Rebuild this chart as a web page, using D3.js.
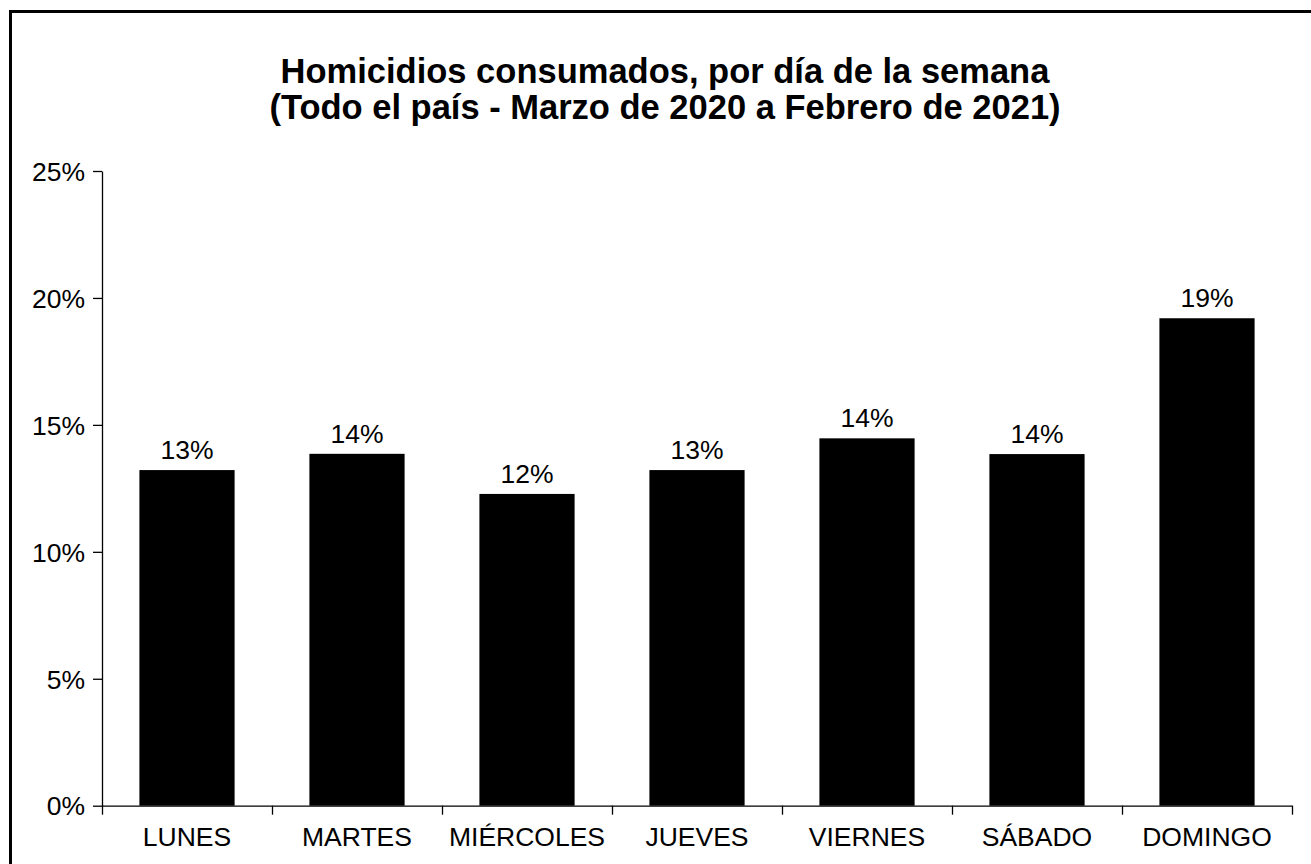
<!DOCTYPE html>
<html>
<head>
<meta charset="utf-8">
<script src="https://cdn.jsdelivr.net/npm/d3@7"></script>
<style>
  body { margin: 0; background: #fff; }
  svg { display: block; font-family: "Liberation Sans", Arial, sans-serif; }
</style>
</head>
<body>
<div class="chart"></div>
<script>
// days of the week and their share of homicides
var days = ["LUNES", "MARTES", "MIÉRCOLES", "JUEVES", "VIERNES", "SÁBADO", "DOMINGO"];
var shares = [0.1322, 0.1386, 0.1228, 0.1322, 0.1447, 0.1385, 0.1920];
var yTicks = [0, 0.05, 0.10, 0.15, 0.20, 0.25];
var titleLines = ["Homicidios consumados, por día de la semana",
                  "(Todo el país - Marzo de 2020 a Febrero de 2021)"];

var width = 1311, height = 864;
var plotLeft = 102, plotRight = 1292, plotTop = 171, plotBottom = 805.7;
var fontSize = 26.5;

var svg = d3.select(".chart").append("svg")
    .attr("width", width)
    .attr("height", height);

// frame (cut off on right / bottom like the original)
svg.append("rect")
    .attr("x", 10.5).attr("y", 11.5)
    .attr("width", 1320).attr("height", 880)
    .attr("fill", "none")
    .attr("stroke", "#000")
    .attr("stroke-width", 3);

svg.append("g")
    .attr("font-weight", "bold")
    .attr("font-size", 34.5)
    .attr("text-anchor", "middle")
    .selectAll("text")
    .data(titleLines).enter()
    .append("text")
    .attr("x", 665)
    .attr("y", (d, i) => 83 + i * 36)
    .text(d => d);

var x = d3.scaleBand()
    .domain(days)
    .range([plotLeft, plotRight])
    .paddingInner(0.44)
    .paddingOuter(0.22);

var y = d3.scaleLinear()
    .domain([0, 0.25])
    .range([plotBottom, plotTop]);

// y axis
var yAxis = svg.append("g")
    .attr("transform", `translate(${plotLeft},0)`)
    .call(d3.axisLeft(y).tickValues(yTicks).tickFormat(d3.format(".0%"))
        .tickSize(9).tickPadding(8).tickSizeOuter(0));
yAxis.selectAll("text").attr("font-size", fontSize).attr("fill", "#000").attr("dy", "0.35em");
yAxis.attr("font-family", null);
yAxis.selectAll("line,path").attr("stroke", "#000").attr("stroke-width", 1.3);

// bars
svg.append("g")
    .selectAll("rect")
    .data(shares).enter()
    .append("rect")
    .attr("x", (d, i) => x(days[i]))
    .attr("y", d => y(d))
    .attr("width", x.bandwidth())
    .attr("height", d => y(0) - y(d))
    .attr("fill", "#000");

// value labels
svg.append("g")
    .attr("font-size", fontSize)
    .attr("text-anchor", "middle")
    .selectAll("text")
    .data(shares).enter()
    .append("text")
    .attr("x", (d, i) => x(days[i]) + x.bandwidth() / 2)
    .attr("y", d => y(d) - 11)
    .text(d => d3.format(".0%")(d));

// x axis: ticks between categories
var xb = d3.scaleLinear().domain([0, days.length]).range([plotLeft, plotRight]);
var xAxis = svg.append("g")
    .attr("transform", `translate(0,${plotBottom})`)
    .call(d3.axisBottom(xb).tickValues(d3.range(days.length + 1)).tickFormat("")
        .tickSize(9).tickSizeOuter(0));
xAxis.selectAll("line,path").attr("stroke", "#000").attr("stroke-width", 1.3);

svg.append("g")
    .attr("font-size", fontSize)
    .attr("text-anchor", "middle")
    .selectAll("text")
    .data(days).enter()
    .append("text")
    .attr("x", d => x(d) + x.bandwidth() / 2)
    .attr("y", 846)
    .text(d => d);
</script>
</body>
</html>
